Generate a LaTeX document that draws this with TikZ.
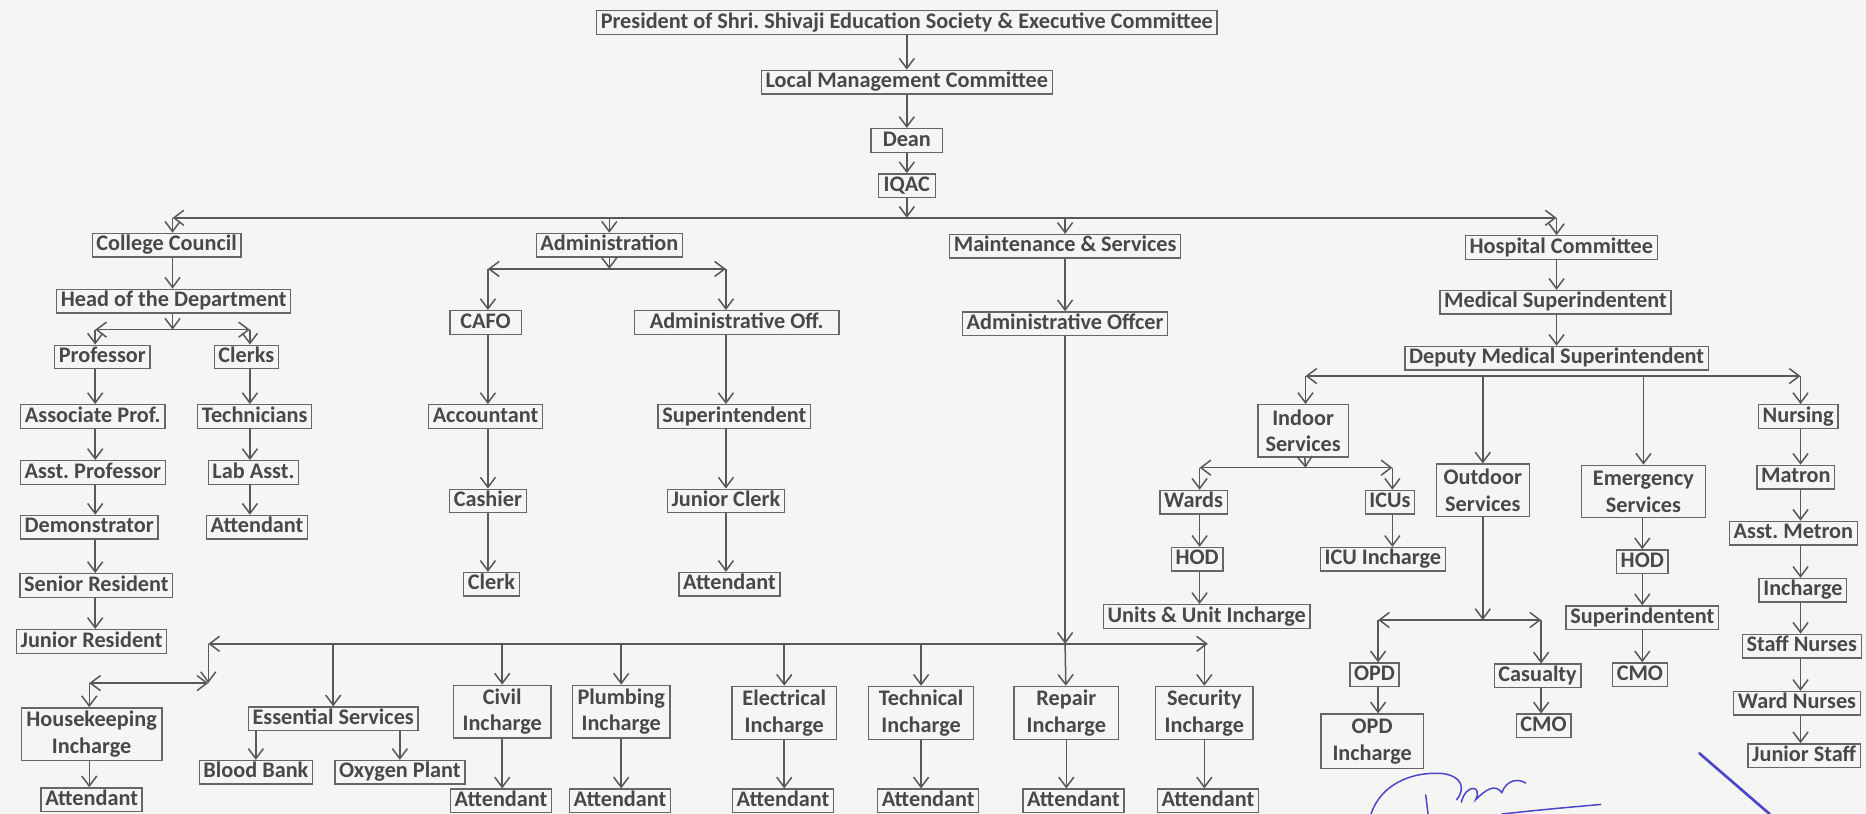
\documentclass[tikz,border=0pt]{standalone}
\usepackage{fontspec}
\setmainfont{Carlito}
\frenchspacing
\usetikzlibrary{arrows.meta, positioning, calc}
\definecolor{boxColor}{HTML}{666666}
\definecolor{textColor}{HTML}{484848}
\definecolor{lineColor}{HTML}{585858}
\definecolor{paperColor}{HTML}{F5F5F3}
\definecolor{inkColor}{HTML}{4B47C8}

\begin{document}
\begin{tikzpicture}[
    x=0.25mm, y=-0.25mm,
    >={Straight Barb[length=6pt,width=9pt]},
    % Box Styles
    base/.style={
        draw=boxColor,
        line width=0.8pt,
        sharp corners,
        align=center,
        font=\fontsize{13.3}{16}\selectfont\bfseries,
        text=textColor,
        inner xsep=2.5pt
    },
    box/.style={
        base,
        text height=9.6pt,
        text depth=2.9pt,
        inner ysep=0.8pt
    },
    twoLine/.style={
        base,
        inner ysep=2pt,
        minimum width=20.5mm,
        minimum height=11mm
    },
    % Line Styles
    connector/.style={
        ->,
        line width=0.9pt,
        color=lineColor
    },
    busLine/.style={
        <->,
        line width=0.9pt,
        color=lineColor
    },
    signLine/.style={
        inkColor,
        line width=0.9pt,
        line cap=round
    }
]

    % --- PAPER ---
    \path[use as bounding box, fill=paperColor] (0,0) rectangle (1568,684);

    % --- TOP OF THE HIERARCHY ---
    \node[box] (president) at (762,19) {President of Shri. Shivaji Education Society \& Executive Committee};
    \node[box] (lmc) at (762,69) {Local Management Committee};
    \node[box, minimum width=15mm] (dean) at (762,118) {Dean};
    \node[box, minimum width=12mm] (iqac) at (762,156) {IQAC};

    \draw[connector] (president) -- (lmc);
    \draw[connector] (lmc) -- (dean);
    \draw[connector] (dean) -- (iqac);

    % --- FIRST LEVEL ---
    \coordinate (iqacJ) at (762,183);
    \coordinate (topBusL) at (145,183);
    \coordinate (topBusR) at (1308,183);

    \node[box] (council) at (140,206) {College Council};
    \node[box] (admin) at (512,206) {Administration};
    \node[box] (maint) at (895,207) {Maintenance \& Services};
    \node[box] (hospital) at (1312,208) {Hospital Committee};

    \draw[connector] (iqac) -- (iqacJ);
    \draw[busLine] (topBusL) -- (topBusR);
    \draw[connector] (topBusL) -- (topBusL |- council.north);
    \draw[connector] (admin |- topBusL) -- (admin);
    \draw[connector] (maint |- topBusL) -- (maint);
    \draw[connector] (topBusR) -- (topBusR |- hospital.north);

    % --- COLLEGE COUNCIL ---
    \node[box] (hod) at (146,253) {Head of the Department};
    \coordinate (hodJ) at (145,277);
    \coordinate (deptBusL) at (80,277);
    \coordinate (deptBusR) at (210,277);

    \node[box] (prof) at (86,300) {Professor};
    \node[box] (assoc) at (78,350) {Associate Prof.};
    \node[box] (asstProf) at (78,397) {Asst. Professor};
    \node[box] (demo) at (75,443) {Demonstrator};
    \node[box] (senRes) at (81,492) {Senior Resident};
    \node[box] (junRes) at (77,539) {Junior Resident};

    \node[box] (clerks) at (207,300) {Clerks};
    \node[box] (techn) at (214,350) {Technicians};
    \node[box] (labAsst) at (213,397) {Lab Asst.};
    \node[box] (attLab) at (216,443) {Attendant};

    \draw[connector] (topBusL |- council.south) -- (topBusL |- hod.north);
    \draw[connector] (hodJ |- hod.south) -- (hodJ);
    \draw[busLine] (deptBusL) -- (deptBusR);
    \draw[connector] (deptBusL) -- (deptBusL |- prof.north);
    \draw[connector] (deptBusR) -- (deptBusR |- clerks.north);
    \foreach \a/\b in {prof/assoc, assoc/asstProf, asstProf/demo, demo/senRes, senRes/junRes}
        \draw[connector] (deptBusL |- \a.south) -- (deptBusL |- \b.north);
    \foreach \a/\b in {clerks/techn, techn/labAsst, labAsst/attLab}
        \draw[connector] (deptBusR |- \a.south) -- (deptBusR |- \b.north);

    % --- ADMINISTRATION ---
    \coordinate (adminJ) at (512,226);
    \coordinate (adminBusL) at (410,226);
    \coordinate (adminBusR) at (610,226);

    \node[box, minimum width=15mm] (cafo) at (408,271) {CAFO};
    \node[box, minimum width=43mm] (admOff) at (619,271) {Administrative Off.};
    \node[box] (accountant) at (408,350) {Accountant};
    \node[box] (supt) at (617,350) {Superintendent};
    \node[box] (cashier) at (410,421) {Cashier};
    \node[box] (jrClerk) at (610,421) {Junior Clerk};
    \node[box] (clerk) at (413,491) {Clerk};
    \node[box] (attAdmin) at (613,491) {Attendant};

    \draw[connector] (admin) -- (adminJ);
    \draw[busLine] (adminBusL) -- (adminBusR);
    \draw[connector] (adminBusL) -- (adminBusL |- cafo.north);
    \draw[connector] (adminBusR) -- (adminBusR |- admOff.north);
    \foreach \a/\b in {cafo/accountant, accountant/cashier, cashier/clerk}
        \draw[connector] (adminBusL |- \a.south) -- (adminBusL |- \b.north);
    \foreach \a/\b in {admOff/supt, supt/jrClerk, jrClerk/attAdmin}
        \draw[connector] (adminBusR |- \a.south) -- (adminBusR |- \b.north);

    % --- MAINTENANCE & SERVICES ---
    \node[box] (admOfficer) at (895,272) {Administrative Offcer};
    \coordinate (maintJ) at (895,541);
    \coordinate (serviceBusL) at (175,541);
    \coordinate (serviceBusR) at (1015,541);
    \coordinate (houseBusL) at (75,574);
    \coordinate (houseBusR) at (175,574);

    \node[twoLine, minimum width=29.5mm] (house) at (77,617) {Housekeeping\\Incharge};
    \node[box] (essential) at (280,604) {Essential Services};
    \node[box] (bloodBank) at (215,649) {Blood Bank};
    \node[box] (oxygen) at (336,649) {Oxygen Plant};
    \node[twoLine] (civil) at (422,598) {Civil\\Incharge};
    \node[twoLine] (plumbing) at (522,598) {Plumbing\\Incharge};
    \node[twoLine, minimum width=22mm] (electrical) at (659,599) {Electrical\\Incharge};
    \node[twoLine, minimum width=22mm] (technical) at (774,599) {Technical\\Incharge};
    \node[twoLine, minimum width=22mm] (repair) at (896,599) {Repair\\Incharge};
    \node[twoLine] (security) at (1012,599) {Security\\Incharge};

    \node[box] (attHouse) at (77,672) {Attendant};
    \node[box] (attCivil) at (421,673) {Attendant};
    \node[box] (attPlumb) at (521,673) {Attendant};
    \node[box] (attElec) at (658,673) {Attendant};
    \node[box] (attTech) at (780,673) {Attendant};
    \node[box] (attRepair) at (902,673) {Attendant};
    \node[box] (attSec) at (1015,673) {Attendant};

    \draw[connector] (maint) -- (admOfficer);
    \draw[connector] (admOfficer) -- (maintJ);
    \draw[busLine] (serviceBusL) -- (serviceBusR);
    \draw[connector] (serviceBusL) -- (houseBusR);
    \draw[busLine] (houseBusL) -- (houseBusR);
    \draw[connector] (houseBusL) -- (houseBusL |- house.north);
    \draw[connector] (houseBusL |- house.south) -- (houseBusL |- attHouse.north);
    \draw[connector] (essential |- serviceBusL) -- (essential);
    \draw[connector] (bloodBank |- essential.south) -- (bloodBank);
    \draw[connector] (oxygen |- essential.south) -- (oxygen);
    \foreach \n/\m in {civil/attCivil, plumbing/attPlumb, electrical/attElec, technical/attTech, security/attSec}{
        \draw[connector] (\n |- serviceBusL) -- (\n);
        \draw[connector] (\n) -- (\n |- \m.north);
    }
    \draw[connector] (maintJ) -- (repair);
    \draw[connector] (repair) -- (repair |- attRepair.north);

    % --- HOSPITAL COMMITTEE ---
    \node[box] (medSup) at (1307,254) {Medical Superindentent};
    \node[box] (dms) at (1308,301) {Deputy Medical Superintendent};
    \coordinate (dmsBusL) at (1097,316);
    \coordinate (dmsBusR) at (1513,316);

    \node[twoLine, minimum width=19mm] (indoor) at (1095,362) {Indoor\\Services};
    \node[twoLine, minimum width=19.5mm] (outdoor) at (1246,412) {Outdoor\\Services};
    \node[twoLine, minimum width=26mm] (emergency) at (1381,413) {Emergency\\Services};
    \node[box] (nursing) at (1511,350) {Nursing};

    \draw[connector] (topBusR |- hospital.south) -- (topBusR |- medSup.north);
    \draw[connector] (topBusR |- medSup.south) -- (topBusR |- dms.north);
    \draw[busLine] (dmsBusL) -- (dmsBusR);
    \draw[connector] (dmsBusL) -- (dmsBusL |- indoor.north);
    \draw[connector] (outdoor |- dmsBusL) -- (outdoor);
    \draw[connector] (emergency |- dmsBusL) -- (emergency);
    \draw[connector] (dmsBusR) -- (dmsBusR |- nursing.north);

    % Indoor Services
    \coordinate (indoorJ) at (1097,393);
    \coordinate (indoorBusL) at (1008,393);
    \coordinate (indoorBusR) at (1170,393);
    \node[box] (wards) at (1003,422) {Wards};
    \node[box] (icus) at (1168,422) {ICUs};
    \node[box] (hodWards) at (1006,470) {HOD};
    \node[box] (icuInch) at (1162,470) {ICU Incharge};
    \node[box] (units) at (1014,518) {Units \& Unit Incharge};

    \draw[connector] (indoor) -- (indoorJ);
    \draw[busLine] (indoorBusL) -- (indoorBusR);
    \draw[connector] (indoorBusL) -- (indoorBusL |- wards.north);
    \draw[connector] (indoorBusR) -- (indoorBusR |- icus.north);
    \draw[connector] (indoorBusL |- wards.south) -- (indoorBusL |- hodWards.north);
    \draw[connector] (indoorBusL |- hodWards.south) -- (indoorBusL |- units.north);
    \draw[connector] (indoorBusR |- icus.south) -- (indoorBusR |- icuInch.north);

    % Outdoor Services
    \coordinate (outdoorJ) at (1246,521);
    \coordinate (opdBusL) at (1158,521);
    \coordinate (opdBusR) at (1295,521);
    \node[box] (opd) at (1155,567) {OPD};
    \node[twoLine, minimum width=21.5mm, minimum height=11.5mm] (opdInch) at (1153,623) {OPD\\Incharge};
    \node[box] (casualty) at (1292,568) {Casualty};
    \node[box] (cmoCas) at (1297,610) {CMO};

    \draw[connector] (outdoor) -- (outdoorJ);
    \draw[busLine] (opdBusL) -- (opdBusR);
    \draw[connector] (opdBusL) -- (opdBusL |- opd.north);
    \draw[connector] (opdBusL |- opd.south) -- (opdBusL |- opdInch.north);
    \draw[connector] (opdBusR) -- (opdBusR |- casualty.north);
    \draw[connector] (opdBusR |- casualty.south) -- (opdBusR |- cmoCas.north);

    % Emergency Services
    \node[box] (hodEmer) at (1380,472) {HOD};
    \node[box] (supEmer) at (1380,519) {Superindentent};
    \node[box] (cmoEmer) at (1378,567) {CMO};
    \foreach \a/\b in {emergency/hodEmer, hodEmer/supEmer, supEmer/cmoEmer}
        \draw[connector] (\a.south -| hodEmer) -- (\b.north -| hodEmer);

    % Nursing
    \node[box] (matron) at (1509,401) {Matron};
    \node[box] (asstMetron) at (1507,448) {Asst. Metron};
    \node[box] (inchNurse) at (1515,496) {Incharge};
    \node[box] (staffNurses) at (1514,543) {Staff Nurses};
    \node[box] (wardNurses) at (1510,591) {Ward Nurses};
    \node[box] (juniorStaff) at (1516,635) {Junior Staff};
    \foreach \a/\b in {nursing/matron, matron/asstMetron, asstMetron/inchNurse, inchNurse/staffNurses, staffNurses/wardNurses, wardNurses/juniorStaff}
        \draw[connector] (dmsBusR |- \a.south) -- (dmsBusR |- \b.north);

    % --- SIGNATURE ---
    \draw[signLine] (1152,684) .. controls (1160,660) and (1185,648) .. (1212,650)
        .. controls (1228,652) and (1232,662) .. (1224,672);
    \draw[signLine] (1198,668) -- (1200,684);
    \draw[signLine] (1228,674) .. controls (1232,658) and (1246,660) .. (1240,672)
        .. controls (1248,664) and (1256,658) .. (1262,666)
        .. controls (1266,655) and (1276,654) .. (1282,658);
    \draw[signLine] (1262,684) .. controls (1300,680) .. (1345,676);
    \draw[signLine, line width=1.6pt] (1428,633) -- (1487,684);

\end{tikzpicture}
\end{document}
